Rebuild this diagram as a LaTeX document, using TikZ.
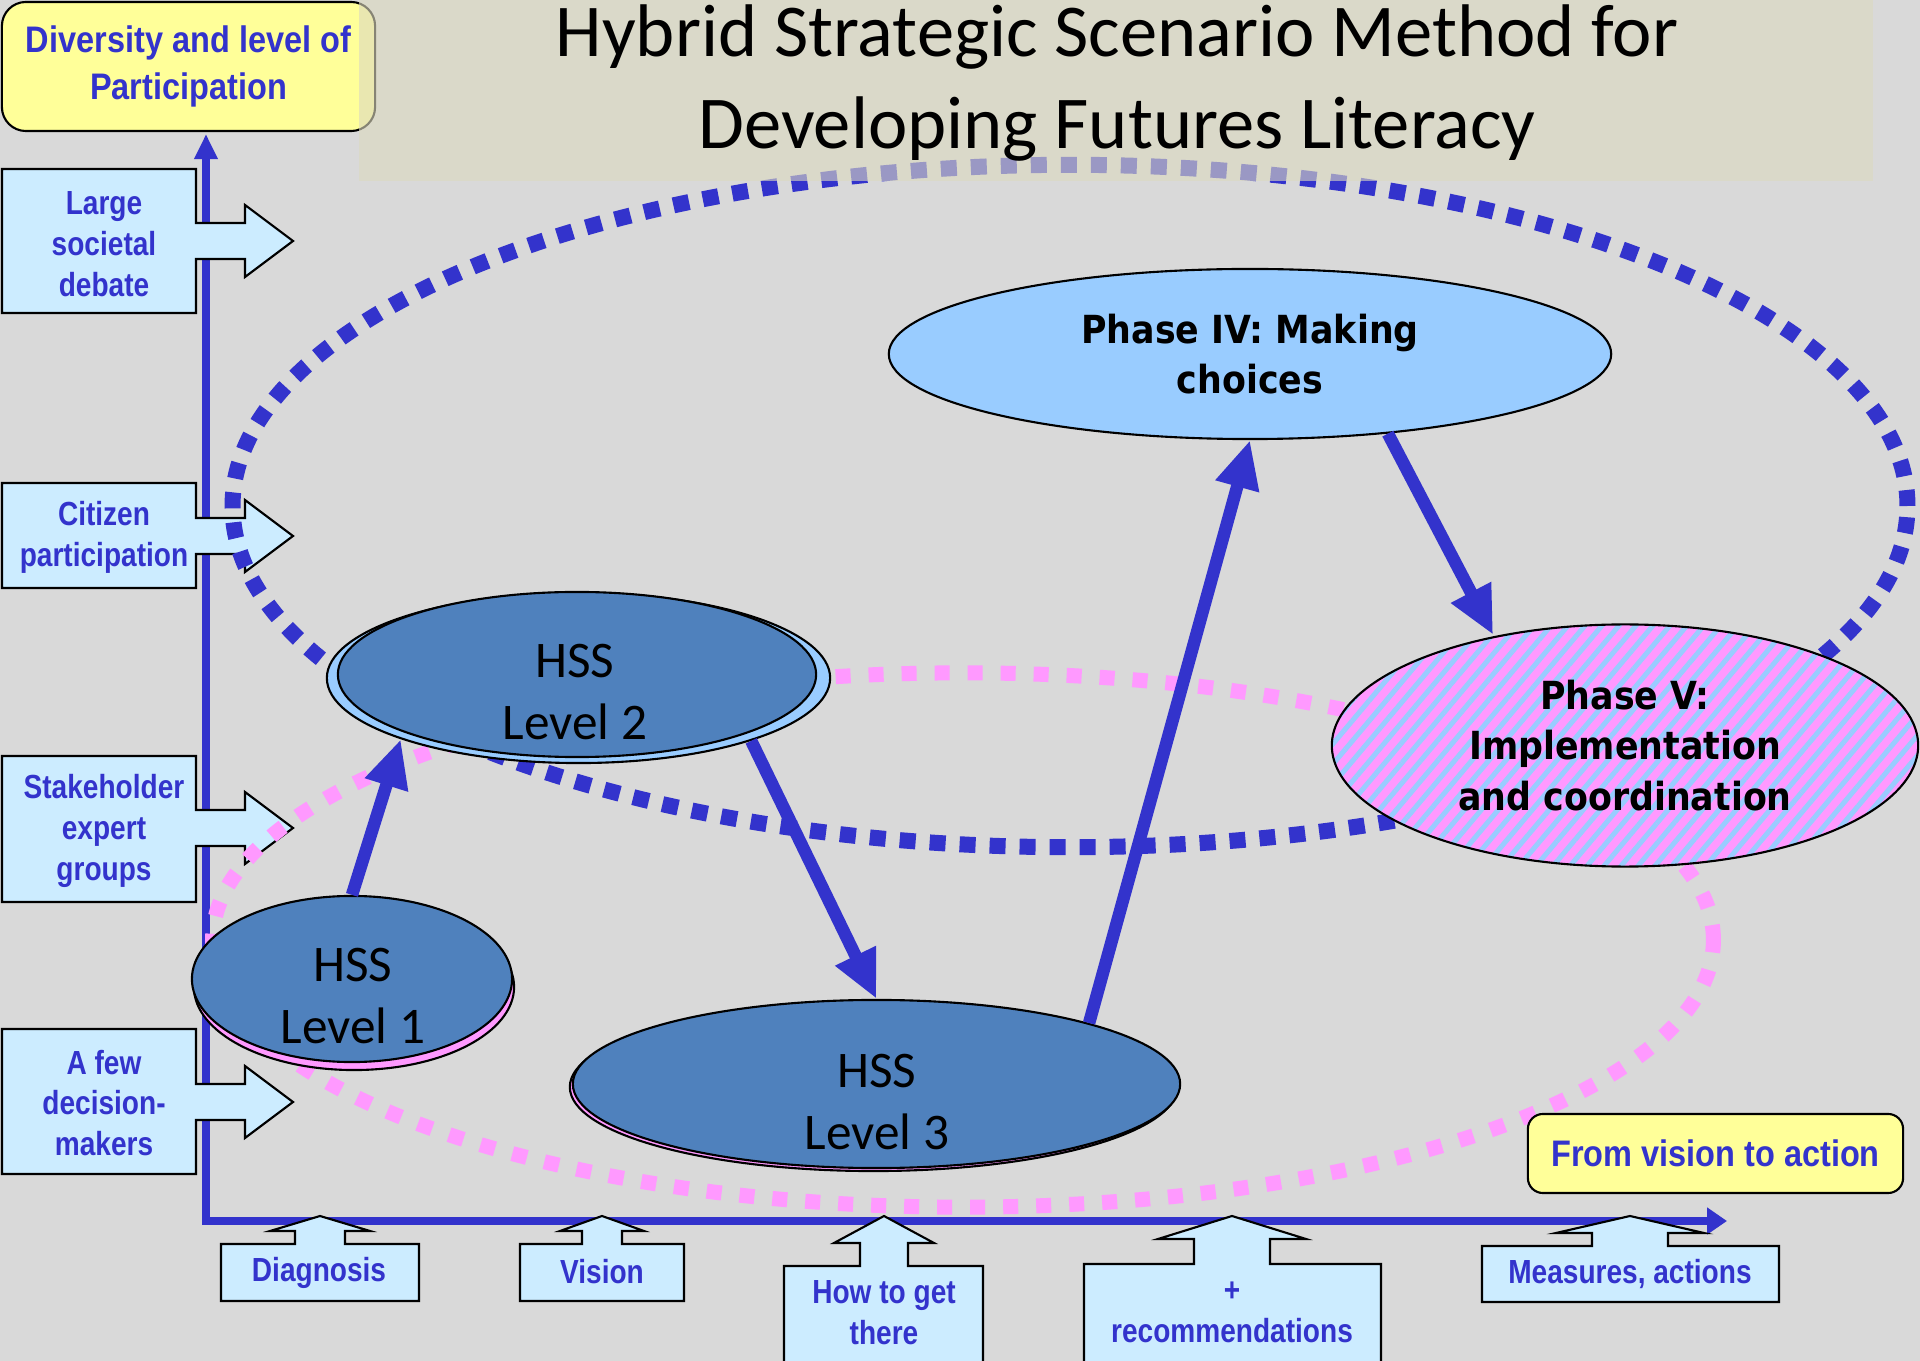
\documentclass[tikz,border=0pt]{standalone}
\usepackage{fontspec}
\usetikzlibrary{shapes.geometric,arrows.meta,patterns.meta}
\newfontfamily\titlefont{Carlito}
\newfontfamily\lblfont{Liberation Sans}[FakeStretch=0.84]
\newfontfamily\capfont{Liberation Sans}[FakeStretch=0.88]
\newfontfamily\phasefont{DejaVu Sans}[FakeStretch=0.9]
\definecolor{bg}{RGB}{217,217,217}
\definecolor{titlebg}{RGB}{220,217,191}
\definecolor{lblue}{RGB}{204,236,255}
\definecolor{axisblue}{RGB}{51,51,204}
\definecolor{hssblue}{RGB}{79,129,189}
\definecolor{skyblue}{RGB}{153,204,255}
\definecolor{pinkdot}{RGB}{255,153,255}
\definecolor{lyellow}{RGB}{255,255,153}

\newcommand{\sidearrow}[3]{%
  \path[callout] (2,#1) -- (196,#1) -- (196,#3-18) -- (245,#3-18) -- (245,#3-36) -- (293,#3)
    -- (245,#3+36) -- (245,#3+18) -- (196,#3+18) -- (196,#2) -- (2,#2) -- cycle;}
\newcommand{\bottomarrow}[8]{%
  \path[callout] (#1,#4) -- (#1,#3) -- (#5-#6,#3) -- (#5-#6,#8) -- (#5-#7,#8) -- (#5,1216)
    -- (#5+#7,#8) -- (#5+#6,#8) -- (#5+#6,#3) -- (#2,#3) -- (#2,#4) -- cycle;}

\begin{document}
\begin{tikzpicture}[x=0.01cm,y=-0.01cm,
  callout/.style={draw=black,fill=lblue,line width=0.6pt,line join=miter},
  lbl/.style={text=axisblue,font=\lblfont\bfseries\fontsize{9.5}{11.6}\selectfont,align=center,inner sep=0},
  ybox/.style={draw=black,fill=lyellow,line width=0.6pt,text=axisblue,font=\capfont\bfseries\fontsize{10.5}{13.4}\selectfont,align=center,inner sep=0},
  hss/.style={ellipse,draw=black,line width=0.6pt,fill=hssblue,inner sep=0},
  hsstxt/.style={font=\titlefont\fontsize{14.6}{17.9}\selectfont,align=center,inner sep=0},
  phase/.style={ellipse,draw=black,line width=0.6pt,inner sep=0,align=center,font=\phasefont\bfseries\fontsize{11}{14.4}\selectfont},
  bigarrow/.style={draw=axisblue,line width=0.125cm,-{Triangle[length=0.48cm,width=0.42cm]}},
  bluedots/.style={draw=axisblue,line width=0.16cm,dash pattern=on 0.16cm off 0.14cm},
  pinkdots/.style={draw=pinkdot,line width=0.15cm,dash pattern=on 0.15cm off 0.18cm}
]

\clip (0,0) rectangle (1920,1361);
\fill[bg] (0,0) rectangle (1920,1361);

\coordinate (o) at (206,1221);
\coordinate (ytop) at (206,134);
\coordinate (xend) at (1727,1221);
\path[draw=axisblue,line width=0.07cm,line join=miter,{Triangle[length=0.25cm,width=0.22cm]}-{Triangle[length=0.2cm,width=0.26cm]}] (ytop) -- (o) -- (xend);

\sidearrow{169}{313}{241}
\sidearrow{483}{588}{536}
\sidearrow{756}{902}{828}
\sidearrow{1029}{1174}{1102}
\node[lbl] (s1) at (104,244) {Large\\societal\\debate};
\node[lbl] (s2) at (104,537) {Citizen\\participation};
\node[lbl] (s3) at (104,831) {Stakeholder\\expert\\groups};
\node[lbl] (s4) at (104,1103) {A few\\decision-\\makers};

\bottomarrow{221}{419}{1244}{1301}{320}{25}{50}{1231}
\bottomarrow{520}{684}{1244}{1301}{602}{20}{42}{1231}
\bottomarrow{784}{983}{1266}{1380}{884}{24}{50}{1243}
\bottomarrow{1084}{1381}{1264}{1380}{1232}{38}{74}{1239}
\bottomarrow{1482}{1779}{1246}{1302}{1630}{38}{74}{1233}
\node[lbl] (b1) at (319,1273) {Diagnosis};
\node[lbl] (b2) at (602,1272) {Vision};
\node[lbl] (b3) at (884,1313) {How to get\\there};
\node[lbl] (b4) at (1232,1312) {+\\recommendations};
\node[lbl] (b5) at (1630,1274) {Measures, actions};

\path[bluedots] (1070,506) ellipse [x radius=8.37cm, y radius=3.41cm];
\path[pinkdots] (963,940) ellipse [x radius=7.5cm, y radius=2.67cm];

\node[hss,fill=skyblue,minimum width=5.03cm,minimum height=1.70cm] (2b) at (578.5,678) {};
\node[hss,minimum width=4.78cm,minimum height=1.65cm] (2) at (577,674.5) {};
\node[hsstxt] (2t) at (575,692) {HSS\\Level 2};

\node[hss,fill=pinkdot,minimum width=3.2cm,minimum height=1.66cm] (1b) at (354,987) {};
\node[hss,minimum width=3.2cm,minimum height=1.66cm] (1) at (352,979) {};
\node[hsstxt] (1t) at (353,996) {HSS\\Level 1};

\node[hss,fill=pinkdot,minimum width=6.07cm,minimum height=1.68cm] (3b) at (873.5,1087) {};
\node[hss,minimum width=6.07cm,minimum height=1.68cm] (3) at (876.5,1084) {};
\node[hsstxt] (3t) at (877,1102) {HSS\\Level 3};

\node[phase,fill=skyblue,minimum width=7.22cm,minimum height=1.70cm] (4) at (1250,354) {Phase IV: Making\\choices};
\node[phase,minimum width=5.86cm,minimum height=2.42cm,preaction={fill=pinkdot},
  pattern={Lines[angle=50,distance=0.13cm,line width=0.05cm]},pattern color=skyblue] (5) at (1625,745.5) {Phase V:\\Implementation\\and coordination};

\path[bigarrow] (1.north) -- (2b.199);
\path[bigarrow] (2b.340) -- (3.north);
\path[bigarrow] (3.16) -- (4.south);
\path[bigarrow] (4.-30) -- (5.140);

\node[ybox,rounded corners=0.24cm,minimum width=3.73cm,minimum height=1.29cm] (y1) at (188.5,66.5) {Diversity and level of\\Participation};
\node[ybox,rounded corners=0.15cm,minimum width=3.75cm,minimum height=0.79cm] (y2) at (1715.5,1153.5) {From vision to action};

\path[fill=titlebg,fill opacity=0.61] (359,0) rectangle (1873,181);
\node[font=\titlefont\fontsize{21.2}{26}\selectfont,align=center,inner sep=0] (title) at (1117,83) {Hybrid Strategic Scenario Method for\\Developing Futures Literacy};

\end{tikzpicture}
\end{document}
